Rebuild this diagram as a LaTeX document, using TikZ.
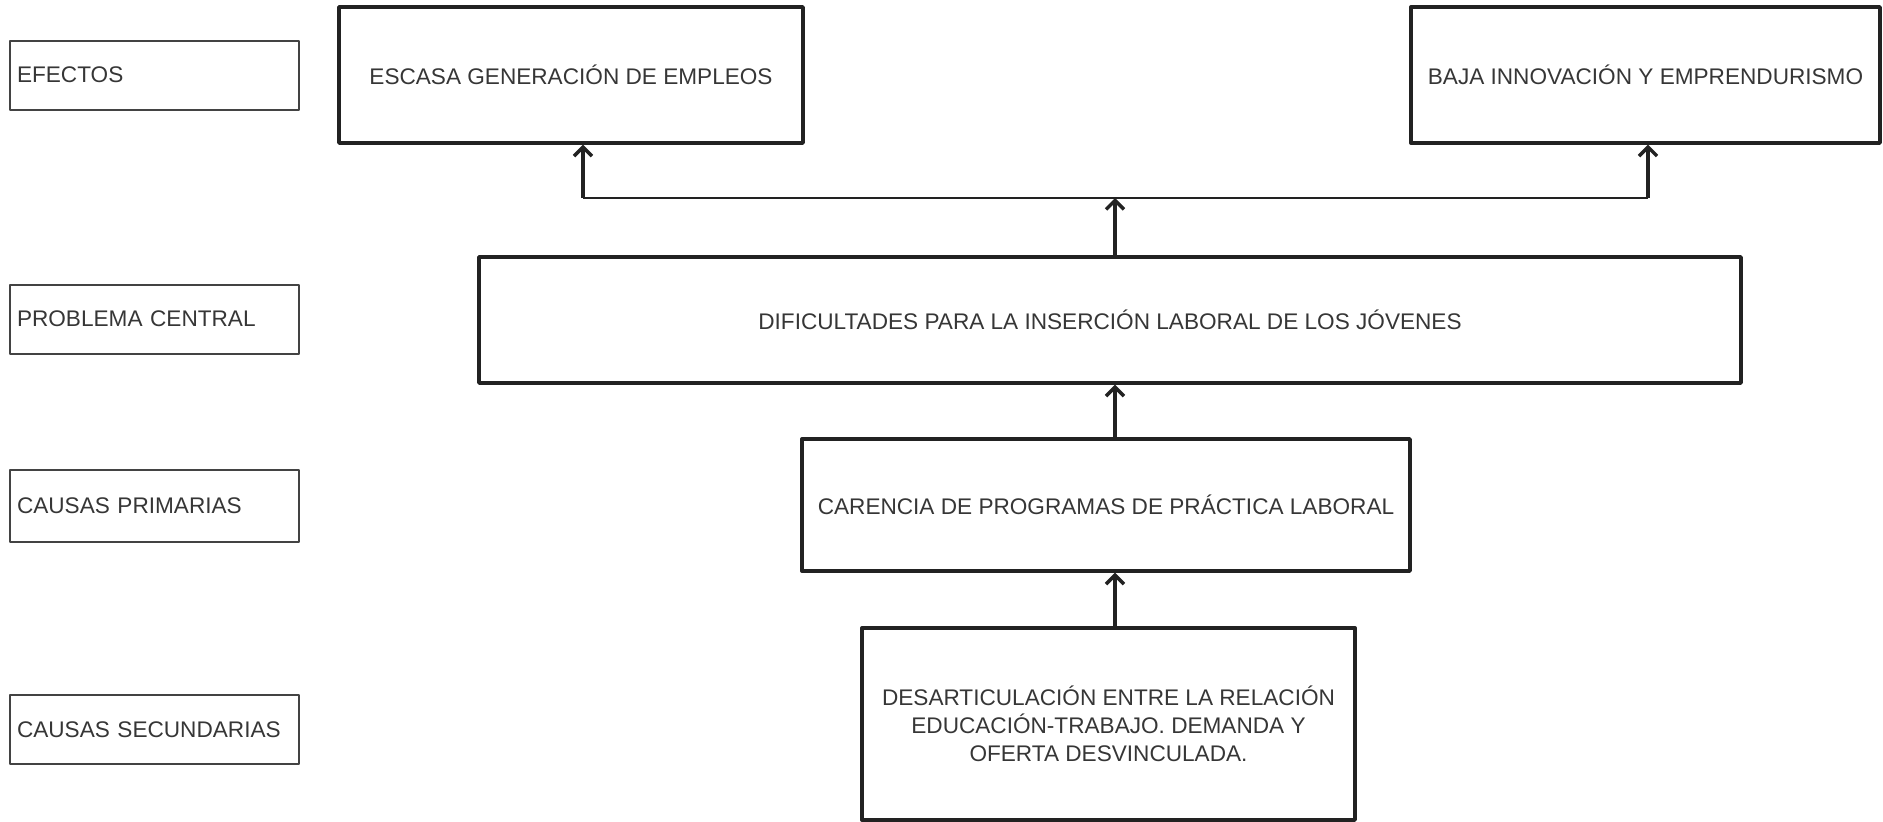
\documentclass[tikz,border=0pt]{standalone}
\usepackage{fontspec}
\setmainfont{Liberation Sans}
\usetikzlibrary{arrows.meta}
\definecolor{tinta}{HTML}{222222}
\definecolor{texto}{HTML}{363636}

\begin{document}
\begin{tikzpicture}[x=1pt, y=-1pt, line join=round, font=\fontsize{22.6}{28}\selectfont,
 caja/.style={draw=tinta, line width=3.4pt, inner sep=0pt, text=texto, align=center},
 etiqueta/.style={draw=tinta!85, line width=2pt, inner ysep=0pt, inner xsep=7pt, text width=275pt, minimum height=69pt, align=left, text=texto},
 flecha/.style={draw=tinta, line width=3.2pt, -{Straight Barb[length=9pt,width=18pt,line width=3.4pt]}}]
 \useasboundingbox (0,0) rectangle (1883,822);
 % Niveles
 \node[etiqueta] (efectos) at (154.5,75) {EFECTOS};
 \node[etiqueta] (central) at (154.5,319) {PROBLEMA CENTRAL};
 \node[etiqueta, minimum height=72pt] (primarias) at (154.5,506) {CAUSAS PRIMARIAS};
 \node[etiqueta] (secundarias) at (154.5,729.5) {CAUSAS SECUNDARIAS};
 % Efectos
 \node[caja, minimum width=464pt, minimum height=136pt] (escasa) at (571,75) {ESCASA GENERACIÓN DE EMPLEOS};
 \node[caja, minimum width=469pt, minimum height=136pt] (baja) at (1645.5,75) {BAJA INNOVACIÓN Y EMPRENDURISMO};
 % Problema y causas
 \node[caja, minimum width=1262pt, minimum height=126pt] (dificultades) at (1110,320) {DIFICULTADES PARA LA INSERCIÓN LABORAL DE LOS JÓVENES};
 \node[caja, minimum width=608pt, minimum height=132pt] (carencia) at (1106,505) {CARENCIA DE PROGRAMAS DE PRÁCTICA LABORAL};
 \node[caja, minimum width=493pt, minimum height=192pt] (desarticulacion) at (1108.5,724) {DESARTICULACIÓN ENTRE LA RELACIÓN\\ EDUCACIÓN-TRABAJO. DEMANDA Y\\ OFERTA DESVINCULADA.};
 % Conectores
 \coordinate (tronco) at (1115,198);
 \coordinate (izq) at (583,198);
 \coordinate (der) at (1648,198);
 \draw[tinta, line width=2.2pt] (izq) -- (der);
 \draw[flecha] (izq) -- (escasa.south -| izq);
 \draw[flecha] (der) -- (baja.south -| der);
 \draw[flecha] (dificultades.north -| tronco) -- (tronco);
 \draw[flecha] (carencia.north -| tronco) -- (dificultades.south -| tronco);
 \draw[flecha] (desarticulacion.north -| tronco) -- (carencia.south -| tronco);
\end{tikzpicture}
\end{document}
